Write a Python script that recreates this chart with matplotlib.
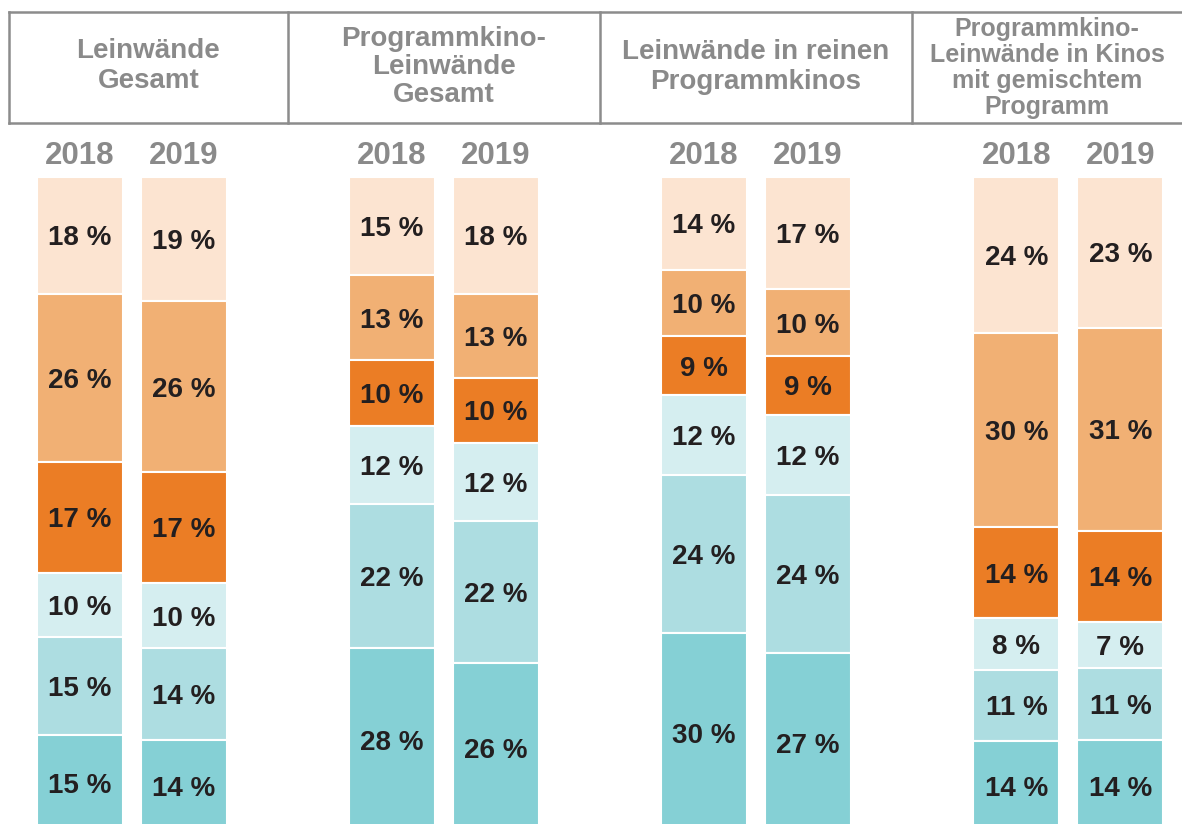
import matplotlib
matplotlib.use('Agg')
import matplotlib.pyplot as plt
import numpy as np

plt.rcParams['font.family'] = ['Liberation Sans', 'DejaVu Sans']

groups = ["Leinwände\nGesamt",
          "Programmkino-\nLeinwände\nGesamt",
          "Leinwände in reinen\nProgrammkinos",
          "Programmkino-\nLeinwände in Kinos\nmit gemischtem\nProgramm"]
years = ["2018", "2019"]

# segments, listed from the top of each bar downwards (2018, 2019 per group)
seg_peach = [18, 19, 15, 18, 14, 17, 24, 23]
seg_lorange = [26, 26, 13, 13, 10, 10, 30, 31]
seg_orange = [17, 17, 10, 10, 9, 9, 14, 14]
seg_lteal = [10, 10, 12, 12, 12, 12, 8, 7]
seg_mteal = [15, 14, 22, 22, 24, 24, 11, 11]
seg_teal = [15, 14, 28, 26, 30, 27, 14, 14]

segments = [seg_peach, seg_lorange, seg_orange, seg_lteal, seg_mteal, seg_teal]
colors = ['#fce4d1', '#f1b074', '#eb7d25', '#d5eef0', '#addde1', '#85d0d5']

W, H = 1182, 824
fig = plt.figure(figsize=(W / 100, H / 100), dpi=100)

bar_top = 177
ax = fig.add_axes([0, 0, 1, 1 - bar_top / H])
ax.set_xlim(0, W)
ax.set_ylim(98.8, 0)   # bars are 100 % stacks, cut off at the bottom edge
ax.axis('off')

seg_arr = np.array(segments, dtype=float)
totals = seg_arr.sum(axis=0)

x = np.array([79.5 + 312.3 * g + 104 * yr for g in range(4) for yr in range(2)])
bottom = np.zeros(len(x))
for vals, c in zip(seg_arr, colors):
    h = vals / totals * 100
    ax.bar(x, h, bottom=bottom, width=86, color=c, edgecolor='white',
           linewidth=1.5)
    for xi, b, hh, v in zip(x, bottom, h, vals):
        ax.text(xi, b + hh / 2, f"{int(v)} %", ha='center',
                va='center_baseline', fontsize=20, fontweight='bold',
                color='#231f20')
    bottom += h

# header boxes
line_col = '#8c8c8c'
top_y, bot_y = 12, 123
fig.add_artist(plt.Line2D([9 / W, 1], [1 - top_y / H] * 2, color=line_col, lw=1.8))
fig.add_artist(plt.Line2D([9 / W, 1], [1 - bot_y / H] * 2, color=line_col, lw=1.8))
dividers = [9, 288, 600, 912]
for d in dividers:
    fig.add_artist(plt.Line2D([d / W] * 2, [1 - top_y / H, 1 - bot_y / H],
                              color=line_col, lw=1.8))

box_edges = dividers + [W]
head_sizes = [20, 20, 20, 18]
head_y = [66, 67, 67, 68]
head_ls = [1.18, 1.12, 1.18, 1.12]
for g, name in enumerate(groups):
    cx = (box_edges[g] + box_edges[g + 1]) / 2
    fig.text(cx / W, 1 - head_y[g] / H, name, ha='center', va='center',
             fontsize=head_sizes[g], fontweight='bold', color='#8a8a8a',
             linespacing=head_ls[g])

for i, xi in enumerate(x):
    fig.text(xi / W, 1 - 153 / H, years[i % 2], ha='center',
             va='center_baseline', fontsize=22.5, fontweight='bold',
             color='#8a8a8a')

fig.savefig('out.png', dpi=100)
